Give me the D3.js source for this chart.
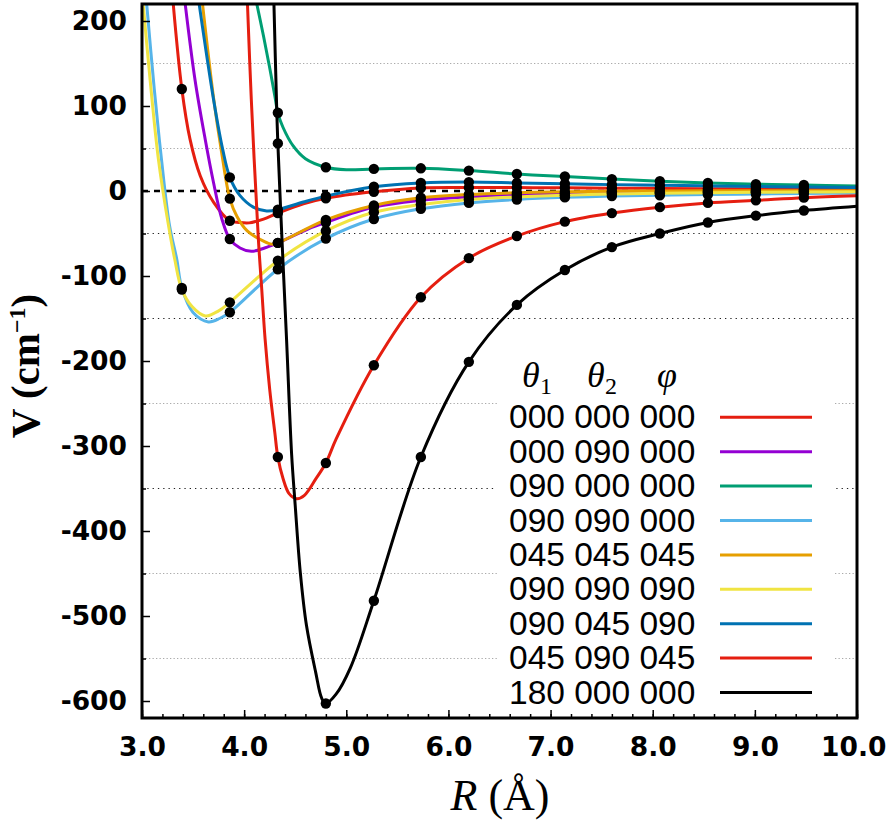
<!DOCTYPE html>
<html>
<head>
<meta charset="utf-8">
<script src="https://cdn.jsdelivr.net/npm/d3@7"></script>
<style>
  body { margin: 0; background: #fff; }
  svg { display: block; }
</style>
</head>
<body>
<svg id="chart" width="888" height="823"></svg>
<script>
// ab initio separations (Å), same for every orientation
var rGrid = [3.39, 3.86, 4.33, 4.80, 5.27, 5.73, 6.20, 6.67, 7.14, 7.60, 8.07, 8.54, 9.01, 9.48];

var labels = ["000 000 000", "000 090 000", "090 000 000", "090 090 000", "045 045 045",
              "090 090 090", "090 045 090", "045 090 045", "180 000 000"];
var colors = ["#e51e10", "#9400d3", "#009e73", "#56b4e9", "#e69f00",
              "#f0e442", "#0072b2", "#e51e10", "#000000"];

// computed points (null = off the chart)
var dotsA = [120, -35, -26, -8.5, -1, 3.5, 4, 4, 3.7, 3.3, 3, 2.7, 2.4, 2.2];
var dotsB = [null, -56.5, -61, -37, -19, -11, -7, -4.5, -3, -2, -1.5, -1.1, -0.8, -0.6];
var dotsC = [null, null, 92, 28, 26, 26.7, 24, 20, 17, 14, 11.5, 9.5, 8, 7];
var dotsD = [-114, -142.7, -92, -56, -33, -21, -14, -10, -7.5, -6, -5, -4.2, -3.5, -3];
var dotsE = [null, -9, -61, -34, -17, -8, -4, -2, -1, -0.3, 0, 0.2, 0.3, 0.4];
var dotsF = [-116, -131, -82, -47, -25, -16, -10, -7, -5, -3.5, -2.7, -2, -1.6, -1.3];
var dotsG = [null, 16, -22, -6, 5, 9.5, 10.5, 9.5, 8.5, 7.5, 6.7, 6, 5.3, 4.7];
var dotsH = [null, null, -313, -320, -205, -125, -79, -53, -36, -26, -19, -14, -11, -7.8];
var dotsI = [null, null, 56, -603, -482, -313, -201, -134, -93, -66, -50, -37, -29, -23];

// extra points of the fitted curves: [R, V]
var fitA = [[3.30,228],[3.47,61],[3.57,18],[3.70,-13],[3.95,-37],[4.05,-37.5],[4.19,-33],[4.58,-15],[10,2]];
var fitB = [[3.415,228],[3.52,130],[3.62,60],[3.70,10],[3.78,-32],[3.96,-67],[4.07,-71],[4.20,-67],[4.62,-45],[10,-0.5]];
var fitC = [[4.11,228],[4.19,182],[4.25,145],[4.30,112],[4.38,75],[4.48,53],[4.60,38],[5.0,25],[10,6]];
var fitD = [[3.04,228],[3.12,120],[3.19,38],[3.27,-41],[3.34,-80],[3.50,-143],[3.65,-154],[3.76,-150],[10,-2.5]];
var fitE = [[3.585,228],[3.70,110],[3.78,45],[3.93,-30],[4.03,-47],[4.19,-59],[4.27,-62.5],[10,0.4]];
var fitF = [[3.005,228],[3.08,130],[3.16,38],[3.26,-41],[3.32,-80],[3.49,-136],[3.62,-147],[3.75,-141],[10,-1]];
var fitG = [[3.55,228],[3.70,108],[3.79,49],[3.96,-5.5],[4.09,-19],[4.22,-23.5],[4.58,-13],[10,4]];
var fitH = [[4.03,228],[4.07,108],[4.139,-56],[4.172,-115],[4.205,-174],[4.25,-233],[4.30,-284],[4.38,-338],
            [4.44,-356],[4.515,-362],[4.59,-358],[4.70,-339],[4.90,-292],[10,-5.5]];
var fitI = [[4.29,228],[4.319,96],[4.37,-56],[4.415,-174],[4.465,-310],[4.50,-370],[4.55,-449],[4.61,-511],
            [4.70,-566],[4.76,-597],[4.90,-592],[5.04,-561],[10,-18]];

var yMajor = [-600, -500, -400, -300, -200, -100, 0, 100, 200];
var yMinor = [-550, -450, -350, -250, -150, -50, 50, 150];
var yDarkGrid = [-350, -150, -50];
var xMajor = [3, 4, 5, 6, 7, 8, 9, 10];
var xMinor = d3.range(30, 101, 2).map(function(d) { return d / 10; });

var allDots = [dotsA, dotsB, dotsC, dotsD, dotsE, dotsF, dotsG, dotsH, dotsI];
var allFits = [fitA, fitB, fitC, fitD, fitE, fitF, fitG, fitH, fitI];

var L = 142, R = 857, T = 4, B = 718;
var x = d3.scaleLinear().domain([3, 10]).range([L, R]);
var y = d3.scaleLinear().domain([-620, 220]).range([B, T]);

var svg = d3.select("#chart");

svg.append("clipPath").attr("id", "plotClip")
  .append("rect").attr("x", L).attr("y", T).attr("width", R - L).attr("height", B - T);

// grid at the minor ticks
svg.append("g").selectAll("line").data(yMinor).join("line")
  .attr("x1", L).attr("x2", R)
  .attr("y1", function(d) { return y(d); }).attr("y2", function(d) { return y(d); })
  .attr("stroke", function(d) { return yDarkGrid.indexOf(d) >= 0 ? "#222" : "#aaa"; })
  .attr("stroke-width", 1.2)
  .attr("stroke-dasharray", function(d) { return yDarkGrid.indexOf(d) >= 0 ? "1.3,4" : "1.3,2.2"; });

// zero line
svg.append("line")
  .attr("x1", L).attr("x2", R).attr("y1", y(0)).attr("y2", y(0))
  .attr("stroke", "#000").attr("stroke-width", 2.5).attr("stroke-dasharray", "6,6");

var series = labels.map(function(lab, i) {
  var pts = allFits[i].map(function(p) { return {r: p[0], v: p[1]}; });
  allDots[i].forEach(function(v, k) { if (v !== null) pts.push({r: rGrid[k], v: v}); });
  pts.sort(function(a, b) { return a.r - b.r; });
  var dots = [];
  allDots[i].forEach(function(v, k) { if (v !== null) dots.push({r: rGrid[k], v: v}); });
  return {label: lab, color: colors[i], line: pts, dots: dots};
});

var line = d3.line()
  .x(function(d) { return x(d.r); })
  .y(function(d) { return y(d.v); })
  .curve(d3.curveCatmullRom.alpha(0.5));

var plot = svg.append("g").attr("clip-path", "url(#plotClip)");

plot.selectAll("path.curve").data(series).join("path")
  .attr("class", "curve")
  .attr("d", function(d) { return line(d.line); })
  .attr("fill", "none")
  .attr("stroke", function(d) { return d.color; })
  .attr("stroke-width", 3)
  .attr("stroke-linejoin", "round");

plot.selectAll("g.pts").data(series).join("g")
  .attr("class", "pts")
  .selectAll("circle").data(function(d) { return d.dots; }).join("circle")
  .attr("cx", function(d) { return x(d.r); })
  .attr("cy", function(d) { return y(d.v); })
  .attr("r", 5.2)
  .attr("fill", "#000");

// legend (opaque box hides the grid only)
var legX = 509, legY0 = 417.3, legStep = 34.4;
svg.append("rect").attr("x", 497).attr("y", 345).attr("width", 336).attr("height", 367).attr("fill", "#fff");

var head = svg.append("g")
  .attr("font-family", "'Liberation Serif', 'DejaVu Serif', serif")
  .attr("font-style", "italic");
[["\u03b8", "1", 522], ["\u03b8", "2", 587], ["\u03c6", "", 657]].forEach(function(h) {
  head.append("text").attr("x", h[2]).attr("y", 387).attr("font-size", 36).text(h[0]);
  if (h[1]) head.append("text").attr("x", h[2] + 18).attr("y", 394)
    .attr("font-size", 24).attr("font-style", "normal").text(h[1]);
});

var leg = svg.append("g").selectAll("g").data(series).join("g")
  .attr("transform", function(d, i) { return "translate(0," + (legY0 + i * legStep) + ")"; });
leg.append("text")
  .attr("x", legX).attr("y", 11)
  .attr("font-family", "'Liberation Sans', Arial, sans-serif")
  .attr("font-size", 33.5)
  .text(function(d) { return d.label; });
leg.append("line")
  .attr("x1", 720).attr("x2", 812)
  .attr("stroke", function(d) { return d.color; })
  .attr("stroke-width", 3);

// axes
var axisFont = "'DejaVu Sans', sans-serif";
svg.append("g").attr("transform", "translate(" + L + ",0)")
  .call(d3.axisLeft(y).tickValues(yMajor).tickSize(-8).tickPadding(15)
        .tickFormat(function(d) { return String(d); }));
svg.append("g").attr("transform", "translate(" + L + ",0)")
  .call(d3.axisLeft(y).tickValues(yMinor).tickSize(-4).tickFormat(""));
var gx = svg.append("g").attr("transform", "translate(0," + B + ")")
  .call(d3.axisBottom(x).tickValues(xMajor).tickSize(-8).tickPadding(19).tickFormat(d3.format(".1f")));
svg.append("g").attr("transform", "translate(0," + B + ")")
  .call(d3.axisBottom(x).tickValues(xMinor).tickSize(-4).tickFormat(""));

svg.selectAll(".domain").remove();
svg.selectAll(".tick line").attr("stroke", "#000").attr("stroke-width", 1.5);
svg.selectAll(".tick text")
  .attr("font-family", axisFont).attr("font-weight", "bold")
  .attr("font-size", 26.5).attr("fill", "#000");
// keep the last x label inside the page
gx.selectAll(".tick text").filter(function(d) { return d === 10; })
  .attr("text-anchor", "end").attr("x", 29);

// frame
svg.append("rect").attr("x", L).attr("y", T).attr("width", R - L).attr("height", B - T)
  .attr("fill", "none").attr("stroke", "#000").attr("stroke-width", 3);

// axis titles
var yt = svg.append("text")
  .attr("transform", "translate(39,366) rotate(-90)")
  .attr("text-anchor", "middle")
  .attr("font-family", "'Liberation Serif', 'DejaVu Serif', serif")
  .attr("font-weight", "bold").attr("font-size", 41);
yt.append("tspan").text("V (cm");
yt.append("tspan").attr("font-size", 24).attr("dy", -14).text("\u22121");
yt.append("tspan").attr("dy", 14).text(")");

var xt = svg.append("text")
  .attr("x", 500).attr("y", 810)
  .attr("text-anchor", "middle")
  .attr("font-family", "'Liberation Serif', 'DejaVu Serif', serif")
  .attr("font-size", 44);
xt.append("tspan").attr("font-style", "italic").text("R");
xt.append("tspan").text(" (\u00c5)");
</script>
</body>
</html>
